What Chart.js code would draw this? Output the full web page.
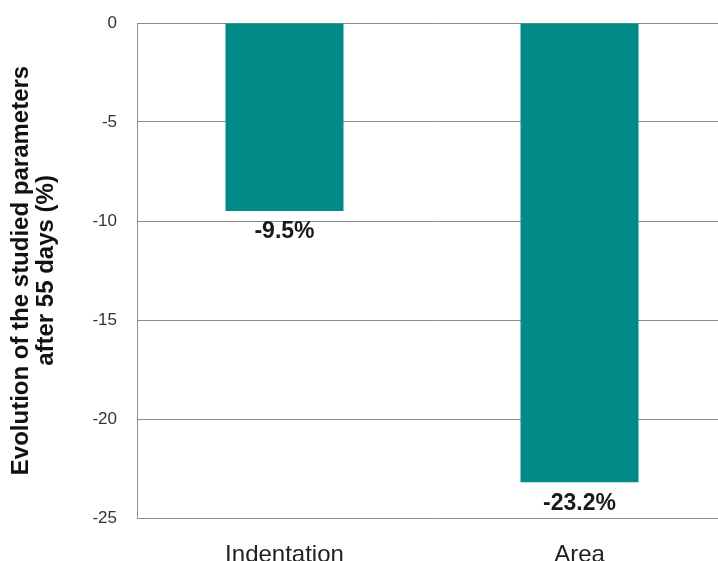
<!DOCTYPE html>
<html>
<head>
<meta charset="utf-8">
<script src="https://cdn.jsdelivr.net/npm/chart.js@4.4.1/dist/chart.umd.min.js"></script>
<style>
  html, body { margin: 0; padding: 0; background: #fff; overflow: hidden; }
  #wrap { width: 728px; height: 561px; }
</style>
</head>
<body>
<div id="wrap"><canvas id="chart" width="728" height="561"></canvas></div>
<script>
const categories = ['Indentation', 'Area'];
const evolution = [-9.5, -23.2];
const yTicks = [0, -5, -10, -15, -20, -25];
const yTitle = ['Evolution of the studied parameters', 'after 55 days (%)'];

// writes the value under the end of each bar
const valueLabels = {
    id: 'valueLabels',
    afterDatasetsDraw(chart) {
        const ctx = chart.ctx;
        const meta = chart.getDatasetMeta(0);
        ctx.save();
        ctx.font = 'bold 23px "Liberation Sans", Arial, sans-serif';
        ctx.fillStyle = '#1a1a1a';
        ctx.textAlign = 'center';
        ctx.textBaseline = 'middle';
        meta.data.forEach((bar, i) => {
            ctx.fillText(evolution[i].toFixed(1) + '%', bar.x, bar.y + 21);
        });
        ctx.restore();
    }
};

new Chart(document.getElementById('chart'), {
    type: 'bar',
    data: {
        labels: categories,
        datasets: [{
            data: evolution,
            backgroundColor: '#008b88',
            categoryPercentage: 0.4,
            barPercentage: 1.0
        }]
    },
    options: {
        responsive: false,
        animation: false,
        layout: { padding: { top: 23, right: 1, bottom: 0, left: 0 } },
        plugins: {
            legend: { display: false },
            tooltip: { enabled: false }
        },
        scales: {
            x: {
                grid: { display: false },
                border: { display: false },
                ticks: {
                    color: '#222',
                    padding: 15,
                    font: { family: '"Liberation Sans", Arial, sans-serif', size: 24 }
                },
                afterFit(scale) { scale.height = 43; }
            },
            y: {
                min: -25,
                max: 0,
                afterBuildTicks(scale) {
                    scale.ticks = yTicks.map(v => ({ value: v }));
                },
                grid: { color: '#8c8c8c', lineWidth: 1, drawTicks: false },
                border: { display: true, color: '#8c8c8c' },
                ticks: {
                    color: '#333',
                    padding: 20,
                    font: { family: '"Liberation Sans", Arial, sans-serif', size: 17 }
                },
                title: {
                    display: true,
                    text: yTitle,
                    color: '#111',
                    padding: { top: 9, bottom: 0 },
                    font: { family: '"Liberation Sans", Arial, sans-serif', size: 24, weight: 'bold', lineHeight: 1.05 }
                },
                afterFit(scale) {
                    scale.width = 137;
                    scale.paddingTop = 0;
                    scale.paddingBottom = 0;
                }
            }
        }
    },
    plugins: [valueLabels]
});
</script>
</body>
</html>
